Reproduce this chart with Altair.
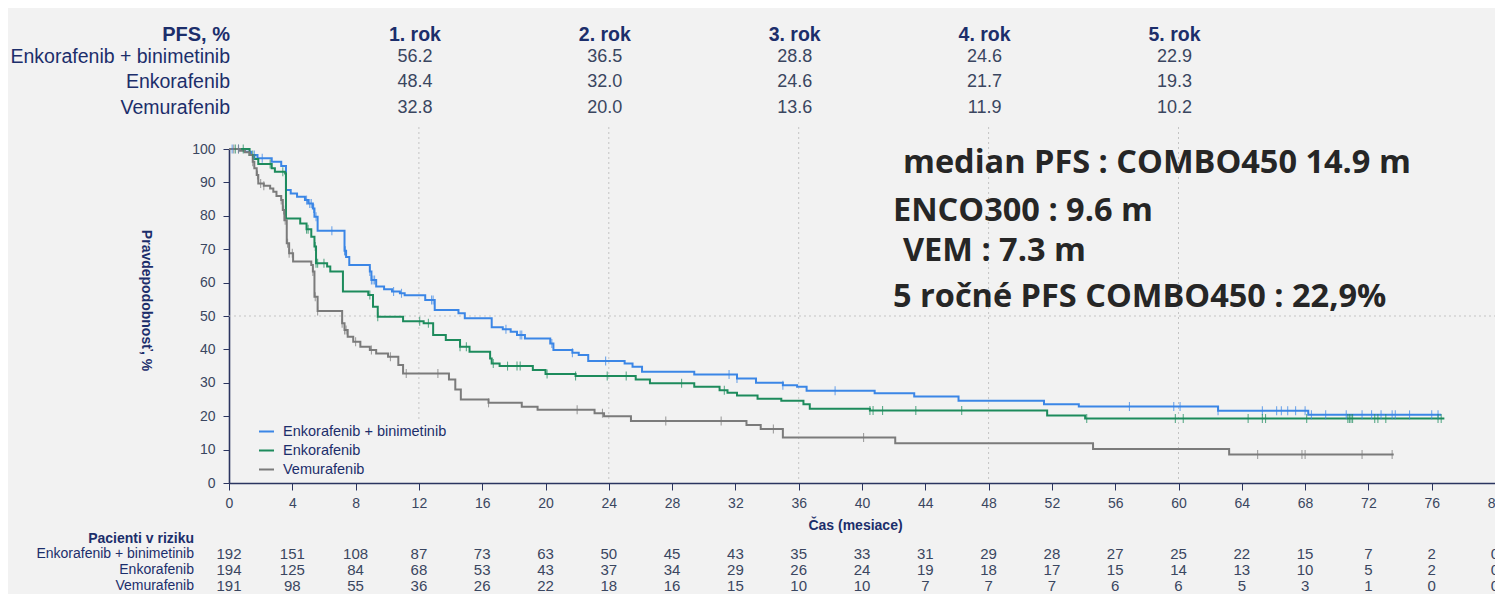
import altair as alt
import pandas as pd

# ---------------- data ----------------
series_names = ["Enkorafenib + binimetinib", "Enkorafenib", "Vemurafenib"]
series_colors = ["#3b86e6", "#1d8b5c", "#7b7b7b"]

combo_t = [0, 1.0, 1.4, 1.8, 2.7, 3.3, 3.6, 3.9, 4.3, 4.8, 5.0, 5.3, 5.4, 5.6, 7.3, 7.4, 7.6,
           8.9, 9.0, 9.3, 9.8, 10.3, 10.8, 11.1, 12.4, 13.0, 14.5, 14.9, 16.6, 17.3, 17.8, 18.2,
           18.7, 20.3, 20.5, 21.7, 22.1, 22.7, 25.0, 25.5, 26.1, 29.4, 32.1, 33.3, 35.0, 35.9,
           36.5, 40.8, 43.3, 46.1, 51.5, 53.7, 62.5, 68.2]
combo_s = [100, 99.2, 98.2, 97.2, 96.2, 94.9, 87.7, 86.7, 85.7, 84.7, 83.7, 82.2, 79.7, 75.5, 69.5,
           67.7, 65.3, 63.3, 60.8, 58.8, 58.0, 57.3, 56.8, 56.2, 54.8, 51.8, 50.8, 49.3, 46.6, 46.0,
           45.3, 44.3, 43.3, 41.8, 39.8, 39.0, 38.3, 36.5, 35.8, 34.8, 33.3, 32.5, 31.3, 30.0, 29.3,
           28.8, 27.6, 26.9, 25.9, 24.6, 23.6, 22.9, 21.6, 20.4]
combo_end = 76.6
combo_cens = [0.2, 0.6, 1.6, 2.1, 4.9, 5.1, 5.2, 5.35, 5.5, 6.5, 7.3, 7.35, 8.9, 9.0, 9.1, 9.2,
              10.4, 10.9, 12.8, 12.9, 17.5, 18.4, 18.5, 20.4, 21.7, 23.8, 31.6, 32.1, 35.0, 38.3,
              56.9, 59.7, 60.1, 62.5, 65.3, 66.2, 66.5, 66.9, 67.4, 68.0, 68.4, 69.3, 70.6, 71.6,
              72.2, 72.8, 73.5, 73.7, 74.6, 76.0, 76.4]

enco_t = [0, 1.3, 1.6, 1.85, 2.7, 2.9, 3.55, 3.6, 4.5, 4.9, 5.2, 5.4, 5.5, 6.2, 6.4, 7.2, 8.8,
          9.1, 9.4, 11.0, 12.3, 12.9, 13.7, 14.6, 15.2, 16.5, 16.6, 17.1, 19.2, 20.0, 21.9, 25.7,
          26.6, 29.4, 31.0, 31.5, 32.1, 33.4, 34.9, 36.3, 36.7, 40.5, 51.7, 54.1]
enco_s = [100, 98.2, 97.0, 95.5, 94.2, 93.2, 92.7, 79.2, 77.7, 76.0, 73.7, 70.8, 65.8, 64.8, 63.3,
          57.3, 56.3, 52.8, 49.8, 48.4, 47.8, 44.3, 42.8, 40.8, 39.3, 37.3, 35.8, 35.0, 33.8, 32.6,
          32.0, 31.0, 29.9, 28.8, 27.8, 27.0, 26.2, 25.2, 24.6, 23.6, 22.2, 21.7, 20.2, 19.3]
enco_end = 76.8
enco_cens = [0.4, 0.9, 1.5, 2.6, 3.4, 4.9, 5.0, 5.45, 5.5, 5.6, 6.0, 8.9, 9.4, 12.05, 12.6, 14.6,
             15.0, 16.7, 17.6, 18.2, 18.4, 20.1, 21.9, 23.9, 25.1, 28.6, 31.3, 40.5, 40.7, 41.3,
             43.4, 46.3, 54.2, 59.8, 60.3, 64.4, 65.3, 65.5, 68.1, 70.7, 70.8, 70.9, 71.0, 72.4,
             72.6, 73.1, 76.4, 76.6]

vem_t = [0, 0.7, 1.0, 1.3, 1.5, 1.6, 1.75, 1.85, 2.2, 2.6, 2.8, 3.0, 3.3, 3.4, 3.5, 3.65, 3.8,
         4.05, 5.2, 5.3, 5.4, 5.6, 7.15, 7.3, 7.5, 7.85, 8.3, 8.9, 9.3, 10.05, 10.7, 11.0, 13.9,
         14.3, 14.65, 16.4, 18.5, 19.5, 23.1, 23.7, 25.4, 32.7, 33.6, 35.0, 42.1, 54.6, 63.2]
vem_s = [100, 99.5, 99.0, 98.2, 96.2, 94.2, 92.2, 89.7, 89.0, 88.2, 87.2, 85.9, 84.7, 81.7, 78.7,
         71.8, 68.8, 66.3, 65.3, 63.3, 55.8, 51.5, 47.8, 45.8, 43.8, 42.3, 40.8, 39.8, 38.8, 37.8,
         35.3, 32.8, 31.0, 28.0, 25.0, 24.0, 22.8, 21.9, 20.9, 20.0, 18.6, 17.4, 16.2, 13.6, 11.9,
         10.2, 8.5]
vem_end = 73.6
vem_cens = [0.3, 0.6, 1.5, 1.8, 2.0, 2.2, 3.3, 3.45, 3.55, 3.7, 3.8, 4.0, 5.3, 5.45, 5.6, 7.15,
            7.3, 7.4, 8.0, 9.0, 10.2, 11.2, 13.2, 16.4, 22.0, 23.6, 27.6, 31.1, 34.4, 40.1, 65.0,
            67.8, 68.0, 71.6, 73.5]

# top table (PFS %)
year_labels = ["1. rok", "2. rok", "3. rok", "4. rok", "5. rok"]
year_months = [12, 24, 36, 48, 60]
pfs_combo = ["56.2", "36.5", "28.8", "24.6", "22.9"]
pfs_enco = ["48.4", "32.0", "24.6", "21.7", "19.3"]
pfs_vem = ["32.8", "20.0", "13.6", "11.9", "10.2"]

# patients at risk
risk_months = list(range(0, 81, 4))
risk_combo = [192, 151, 108, 87, 73, 63, 50, 45, 43, 35, 33, 31, 29, 28, 27, 25, 22, 15, 7, 2, 0]
risk_enco = [194, 125, 84, 68, 53, 43, 37, 34, 29, 26, 24, 19, 18, 17, 15, 14, 13, 10, 5, 2, 0]
risk_vem = [191, 98, 55, 36, 26, 22, 18, 16, 15, 10, 10, 7, 7, 7, 6, 6, 5, 3, 1, 0, 0]

annot_lines = ["median PFS : COMBO450 14.9 m", "ENCO300 : 9.6 m", "VEM : 7.3 m",
               "5 ročné PFS COMBO450 : 22,9%"]

# ---------------- build tables ----------------
def step_value(ts, ss, t):
    v = ss[0]
    for ti, si in zip(ts, ss):
        if ti <= t:
            v = si
        else:
            break
    return v

curves = [(series_names[0], combo_t, combo_s, combo_end, combo_cens),
          (series_names[1], enco_t, enco_s, enco_end, enco_cens),
          (series_names[2], vem_t, vem_s, vem_end, vem_cens)]

line_rows, cens_rows = [], []
for name, ts, ss, end, cens in curves:
    for i, (t, s) in enumerate(zip(ts + [end], ss + [ss[-1]])):
        line_rows.append({"series": name, "t": t, "s": s, "o": i})
    for c in cens:
        cens_rows.append({"series": name, "t": c, "s": step_value(ts, ss, c)})
line_df = pd.DataFrame(line_rows)
cens_df = pd.DataFrame(cens_rows)

W, H = 1266, 334
NAVY = "#1c2e6b"
NUM = "#3a4660"
AX = "#2b3560"

xscale = alt.Scale(domain=[0, 80], nice=False, zero=False)
yscale = alt.Scale(domain=[0, 100], nice=False)
color_scale = alt.Scale(domain=series_names, range=series_colors)

xaxis = alt.Axis(values=risk_months, grid=False, domainColor=AX, domainWidth=1.6,
                 tickColor=AX, tickSize=7, tickWidth=1, labelFontSize=14, labelColor=NUM,
                 labelFont="Liberation Sans", labelPadding=6, labelFlush=False,
                 labelOverlap=False, title="Čas (mesiace)", titleFontSize=14,
                 titleFontWeight="bold", titleColor=NAVY, titleFont="Liberation Sans",
                 titleX=626, titleY=42, titleAlign="center", titleBaseline="middle")
yaxis = alt.Axis(values=list(range(0, 101, 10)), grid=False, domainColor=AX, domainWidth=1.6,
                 tickColor=AX, tickSize=6, labelFontSize=14, labelColor=NUM,
                 labelFont="Liberation Sans", labelPadding=8, labelFlush=False,
                 title="Pravdepodobnosť, %", titleFontSize=14, titleFontWeight="bold",
                 titleColor=NAVY, titleFont="Liberation Sans", titleAngle=90,
                 titleX=-84, titleY=151, titleAlign="center", titleBaseline="middle")

grid_v = alt.Chart(pd.DataFrame({"m": year_months})).mark_rule(
    color="#c4c4c4", strokeDash=[2, 3], strokeWidth=1).encode(
    x=alt.X("m:Q", scale=xscale, axis=xaxis), y=alt.value(-22), y2=alt.value(H))
grid_h = alt.Chart(pd.DataFrame({"v": [50]})).mark_rule(
    color="#c4c4c4", strokeDash=[2, 3], strokeWidth=1).encode(
    y=alt.Y("v:Q", scale=yscale, axis=yaxis), x=alt.value(0), x2=alt.value(W))

lines = alt.Chart(line_df).mark_line(interpolate="step-after", strokeWidth=2).encode(
    x=alt.X("t:Q", scale=xscale, axis=xaxis),
    y=alt.Y("s:Q", scale=yscale, axis=yaxis),
    color=alt.Color("series:N", scale=color_scale, legend=alt.Legend(
        title=None, orient="none", legendX=25, legendY=270, symbolType="stroke",
        symbolStrokeWidth=2, symbolSize=225, labelFontSize=14.5, labelColor=NAVY,
        labelFont="Liberation Sans", labelLimit=400, rowPadding=4, fillColor="#f2f2f2",
        padding=4, labelOffset=8)),
    order="o:Q")

ticks = alt.Chart(cens_df).mark_tick(orient="vertical", size=9, thickness=1.1).encode(
    x=alt.X("t:Q", scale=xscale, axis=xaxis),
    y=alt.Y("s:Q", scale=yscale, axis=yaxis),
    color=alt.Color("series:N", scale=color_scale, legend=None))

layers = [grid_v, grid_h, lines, ticks]

# --- top PFS table ---
top_rows_y = [-92, -67, -41]
head_df = pd.DataFrame({"m": year_months, "lab": year_labels})
layers.append(alt.Chart(head_df).mark_text(
    fontSize=19.5, fontWeight="bold", color=NAVY, font="Liberation Sans", dx=-4).encode(
    x=alt.X("m:Q", scale=xscale), y=alt.value(-114), text="lab:N"))
layers.append(alt.Chart(pd.DataFrame({"lab": ["PFS, %"]})).mark_text(
    fontSize=20, fontWeight="bold", color=NAVY, font="Liberation Sans", align="right").encode(
    x=alt.value(1), y=alt.value(-114), text="lab:N"))
for name, vals, yy in zip(series_names, [pfs_combo, pfs_enco, pfs_vem], top_rows_y):
    layers.append(alt.Chart(pd.DataFrame({"m": year_months, "v": vals})).mark_text(
        fontSize=18, color=NUM, font="Liberation Sans", dx=-4).encode(
        x=alt.X("m:Q", scale=xscale), y=alt.value(yy), text="v:N"))
    layers.append(alt.Chart(pd.DataFrame({"lab": [name]})).mark_text(
        fontSize=19.5, color=NAVY, font="Liberation Sans", align="right").encode(
        x=alt.value(1), y=alt.value(yy), text="lab:N"))

# --- patients at risk ---
risk_rows_y = [405, 421, 437]
layers.append(alt.Chart(pd.DataFrame({"lab": ["Pacienti v riziku"]})).mark_text(
    fontSize=14, fontWeight="bold", color=NAVY, font="Liberation Sans", align="right").encode(
    x=alt.value(-35), y=alt.value(390), text="lab:N"))
for name, vals, yy in zip(series_names, [risk_combo, risk_enco, risk_vem], risk_rows_y):
    layers.append(alt.Chart(pd.DataFrame({"m": risk_months, "v": vals})).mark_text(
        fontSize=15, color=NUM, font="Liberation Sans").encode(
        x=alt.X("m:Q", scale=xscale), y=alt.value(yy), text="v:Q"))
    layers.append(alt.Chart(pd.DataFrame({"lab": [name]})).mark_text(
        fontSize=14, color=NAVY, font="Liberation Sans", align="right").encode(
        x=alt.value(-35), y=alt.value(yy), text="lab:N"))

# --- annotation ---
annot_x = [674, 664, 674, 664]
annot_y = [14, 62, 102, 148]
for txt, ax, ay in zip(annot_lines, annot_x, annot_y):
    layers.append(alt.Chart(pd.DataFrame({"lab": [txt]})).mark_text(
        fontSize=32.5, fontWeight="bold", color="#262626", font="Open Sans", align="left").encode(
        x=alt.value(ax), y=alt.value(ay), text="lab:N"))

chart = alt.layer(*layers).properties(
    width=W, height=H,
    autosize=alt.AutoSizeParams(type="none"),
    padding={"left": 221, "top": 141, "right": 0, "bottom": 111},
    background="#f2f2f2",
).configure_view(stroke=None)

chart.save("out.html", embed_options={"renderer": "svg", "actions": False})
